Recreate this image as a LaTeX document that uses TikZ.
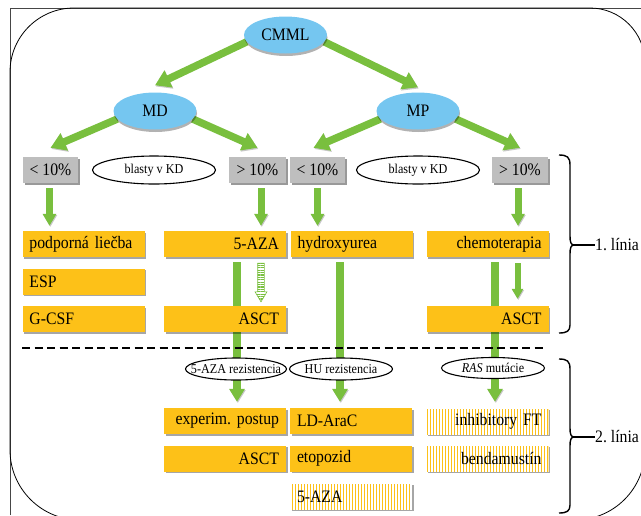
\documentclass[tikz,border=0pt]{standalone}
\usepackage{fontspec}
\setmainfont{Liberation Serif}[FakeStretch=0.9]
\frenchspacing
\usetikzlibrary{arrows.meta,shapes.geometric,shadows,patterns.meta,calc}
\pgfdeclarelayer{bg}
\pgfsetlayers{bg,main}
\definecolor{gor}{RGB}{253,193,24}
\definecolor{ggr}{RGB}{190,190,190}
\definecolor{gbl}{RGB}{117,198,240}
\definecolor{ggn}{RGB}{121,191,62}
\definecolor{frm}{RGB}{70,70,70}
\newcommand\bigf{\fontsize{17.5pt}{19pt}\selectfont}
\newcommand\smf{\fontsize{13.5pt}{15pt}\selectfont}
\newcommand\nb[1]{\makebox[0pt]{#1}}
\tikzset{
  x=1pt, y=-1pt,
  obox/.style={fill=gor, minimum height=26pt, text width=108pt, inner xsep=7pt, inner ysep=0pt, font=\bigf,
    drop shadow={shadow xshift=1.5pt, shadow yshift=-1.5pt, fill=black, opacity=0.35}},
  ol/.style={obox, align=left},
  orr/.style={obox, align=right},
  striped/.style={postaction={pattern={Lines[angle=90,distance=3pt,line width=1.1pt]}, pattern color=white}},
  gbox/.style={fill=ggr, minimum width=55pt, minimum height=26pt, inner sep=0pt, font=\bigf,
    drop shadow={shadow xshift=1.5pt, shadow yshift=-1.5pt, fill=black, opacity=0.4}},
  bell/.style={ellipse, fill=gbl, minimum width=83pt, minimum height=37pt, inner sep=0pt, font=\bigf,
    drop shadow={shadow xshift=0.5pt, shadow yshift=-2.5pt, fill=black, opacity=0.3}},
  wel/.style={ellipse, draw, line width=1.1pt, fill=white, inner sep=0pt, font=\smf},
  gshadow/.style={preaction={draw=black, opacity=0.22, transform canvas={shift={(0.8pt,-1.2pt)}}}},
  garrow/.style={draw=ggn, line width=7.5pt, -{Triangle[width=18pt,length=15pt]}, gshadow},
  garrowsm/.style={draw=ggn, line width=7pt, -{Triangle[width=13pt,length=12pt]}, gshadow},
  garrowlg/.style={draw=ggn, line width=8pt, -{Triangle[width=15pt,length=13pt]}, gshadow},
  garrowxs/.style={draw=ggn, line width=6pt, -{Triangle[width=11pt,length=10pt]}, gshadow},
  hatcharrow/.style={draw=ggn, line width=0.6pt, pattern={Lines[angle=0,distance=2.4pt,line width=1.1pt]}, pattern color=ggn},
  bracestyle/.style={draw=black, line width=1.4pt},
  lab/.style={font=\bigf, anchor=west, inner sep=0pt},
}
\begin{document}
\begin{tikzpicture}
\useasboundingbox (0,0) rectangle (641,515);
\clip (0,0) rectangle (641,515);
% frame
\draw[frm, line width=0.9pt] (10,515) -- (10,8) -- (641,8);
\draw[black, line width=0.8pt] (10,72) arc[start angle=180, end angle=270, radius=64]
  -- (590,8) arc[start angle=270, end angle=360, radius=55]
  -- (645,450) arc[start angle=0, end angle=90, radius=70]
  -- (80,520) arc[start angle=90, end angle=180, radius=70] -- cycle;

% top ellipses
\node[bell] (cmml) at (285.5,35) {CMML};
\node[bell] (md) at (155,111) {MD};
\node[bell] (mp) at (418,111) {MP};

% blasts row
\node[gbox] (lt1) at (50.5,170) {< 10\%};
\node[wel, minimum width=123pt, minimum height=28pt] (kd1) at (154,170) {\nb{blasty v KD}};
\node[gbox, minimum width=57pt] (gt1) at (257.5,170) {> 10\%};
\node[gbox] (lt2) at (317.5,170) {< 10\%};
\node[wel, minimum width=123pt, minimum height=28pt] (kd2) at (418,170) {\nb{blasty v KD}};
\node[gbox, minimum width=56pt] (gt2) at (520,170) {> 10\%};

% first line treatments
\node[ol] (pod) at (83.5,244) {podporná liečba};
\node[ol] (esp) at (83.5,281.5) {ESP};
\node[ol] (gcsf) at (83.5,319) {G-CSF};
\node[orr] (aza1) at (225,244) {5-AZA};
\node[orr] (asct1) at (225,319) {ASCT};
\node[ol] (hu) at (351.5,244) {hydroxyurea};
\node[orr] (chemo) at (487.5,244) {chemoterapia};
\node[orr] (asct2) at (487.5,319) {ASCT};

% separator
\coordinate (dl) at (22,348);
\coordinate (dr) at (545,348);
\draw[line width=1.8pt, dash pattern=on 8pt off 4.5pt] (dl) -- (dr);

% resistance ellipses
\node[wel, minimum width=101pt, minimum height=22pt] (r1) at (236,369) {\nb{5-AZA rezistencia}};
\node[wel, minimum width=103pt, minimum height=22pt] (r2) at (341,369) {\nb{HU rezistencia}};
\node[wel, minimum width=103pt, minimum height=21pt] (r3) at (493,368) {\nb{\textit{RAS} mutácie}};

% second line treatments
\node[orr] (exp) at (225,421) {experim. postup};
\node[ol] (ld) at (351,421) {LD-AraC};
\node[orr] (asct3) at (225,458.5) {ASCT};
\node[ol] (etop) at (351,458.5) {etopozid};
\node[ol, striped] (aza2) at (351,496.5) {5-AZA};
\node[orr, striped] (inh) at (487.5,421.5) {inhibitory FT};
\node[orr, striped] (bend) at (487.5,458.5) {bendamustín};

% labels
\node[lab] (l1) at (595,245) {1. línia};
\node[lab] (l2) at (595,437) {2. línia};

% braces
\coordinate (b1) at (574,245);
\draw[bracestyle] (559,155) .. controls (567,155) and (570,157) .. (570,165) -- (570,236)
  .. controls (570,242) and (571,245) .. (b1) .. controls (571,245) and (570,248) .. (570,254)
  -- (570,325) .. controls (570,331) and (567,333) .. (559,333);
\draw[bracestyle] (b1) -- (l1.west);
\coordinate (b2) at (574,437);
\draw[bracestyle] (559,359) .. controls (567,359) and (570,361) .. (570,369) -- (570,428)
  .. controls (570,434) and (571,437) .. (b2) .. controls (571,437) and (570,440) .. (570,446)
  -- (570,505) .. controls (570,511) and (567,513) .. (559,513);
\draw[bracestyle] (b2) -- (l2.west);

\begin{pgfonlayer}{bg}
\draw[garrow] (cmml.190) -- ($(md.north)+(0,-7)$);
\draw[garrow] (cmml.-10) -- ($(mp.north)+(0,-5)$);
\draw[garrow] (md.192) -- ($(lt1.north)+(0,-9)$);
\draw[garrow] (md.-12) -- ($(gt1.north)+(0,-9)$);
\draw[garrow] (mp.192) -- ($(lt2.north)+(-4,-9)$);
\draw[garrow] (mp.-12) -- ($(gt2.north)+(0,-9)$);

\draw[garrowsm] ($(lt1.south)+(-1,5)$) -- ($(lt1.south |- pod.north)+(-1,-5)$);
\draw[garrowsm] ($(gt1.south)+(3.5,5)$) -- ($(gt1.south |- aza1.north)+(3.5,-5)$);
\draw[garrowsm] ($(lt2.south)+(0,5)$) -- ($(lt2.south |- hu.north)+(0,-5)$);
\draw[garrowsm] ($(gt2.south)+(-2,5)$) -- ($(gt2.south |- chemo.north)+(-2,-5)$);

\draw[garrowlg] ($(aza1.south)+(12,5)$) -- ($(exp.north)+(12,-6)$);
\draw[garrowlg] ($(hu.south)+(-11.5,5)$) -- ($(ld.north)+(-11,-6)$);
\draw[garrowlg] ($(chemo.south)+(7.5,5)$) -- ($(inh.north)+(7.5,-6.5)$);
\draw[garrowxs] ($(chemo.south)+(30,6)$) -- ($(asct2.north)+(30,-7)$);

\coordinate (h1) at ($(aza1.south)+(36,6)$);
\coordinate (h2) at ($(asct1.north)+(36,-4)$);
\draw[hatcharrow] ($(h1)+(-3.3,0)$) -- ($(h1)+(3.3,0)$) -- ($(h2)+(3.3,-10)$) -- ($(h2)+(6,-10)$)
  -- (h2) -- ($(h2)+(-6,-10)$) -- ($(h2)+(-3.3,-10)$) -- cycle;
\end{pgfonlayer}
\end{tikzpicture}
\end{document}
